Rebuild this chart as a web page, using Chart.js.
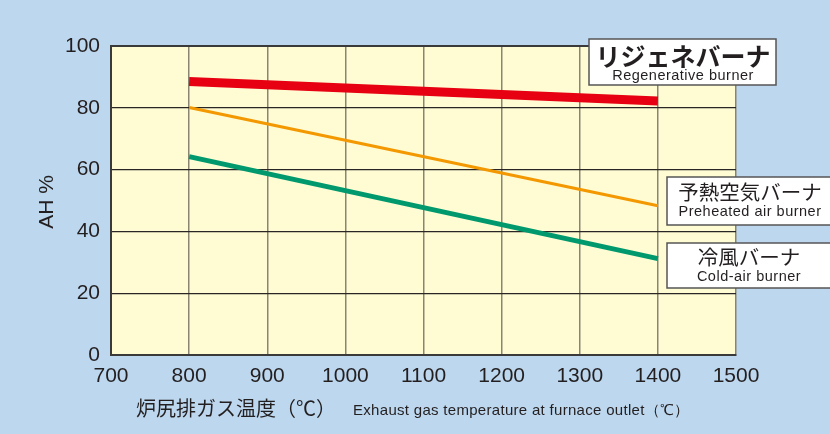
<!DOCTYPE html>
<html>
<head>
<meta charset="utf-8">
<script src="https://cdn.jsdelivr.net/npm/chart.js@4.4.1/dist/chart.umd.min.js"></script>
<style>
  html, body { margin: 0; padding: 0; background: #bdd7ee; }
  #wrap { width: 830px; height: 434px; }
</style>
</head>
<body>
<div id="wrap"><canvas id="grafica" width="830" height="434"></canvas></div>
<script>
// 炉尻排ガス温度 (℃)
const temps = [800, 1400];
// AH %
const regen = [88.5, 82.2];     // リジェネバーナ
const preheat = [80.1, 48.3];   // 予熱空気バーナ
const coldAir = [64.2, 31.2];   // 冷風バーナ
const xTicks = [700, 800, 900, 1000, 1100, 1200, 1300, 1400, 1500];
const yTicks = [0, 20, 40, 60, 80, 100];

const pts = (ys) => temps.map((t, i) => ({ x: t, y: ys[i] }));
const ink = "#231f20";
const sans = "'Liberation Sans', Arial, sans-serif";
const jp = "'Noto Sans CJK JP', sans-serif";

const decor = {
  id: "decor",
  beforeDraw(chart) {
    const { ctx, chartArea: a } = chart;
    ctx.save();
    ctx.fillStyle = "#bdd7ee";
    ctx.fillRect(0, 0, chart.width, chart.height);
    ctx.fillStyle = "#fffcd3";
    ctx.fillRect(a.left, a.top, a.right - a.left, a.bottom - a.top);
    ctx.restore();
  },
  afterDraw(chart) {
    const { ctx, chartArea: a } = chart;
    ctx.save();
    // top border of plot
    ctx.strokeStyle = "#3a3a3a";
    ctx.lineWidth = 2;
    ctx.beginPath();
    ctx.moveTo(a.left, a.top);
    ctx.lineTo(a.right, a.top);
    ctx.stroke();

    // y axis title
    ctx.fillStyle = ink;
    ctx.save();
    ctx.translate(47, 202);
    ctx.rotate(-Math.PI / 2);
    ctx.font = "21px " + sans;
    ctx.textAlign = "center";
    ctx.textBaseline = "middle";
    ctx.fillText("AH %", 0, 0);
    ctx.restore();

    // x axis title
    ctx.textAlign = "left";
    ctx.textBaseline = "alphabetic";
    ctx.font = "20px " + jp;
    ctx.fillText("炉尻排ガス温度（℃）", 136, 416);
    ctx.font = "15px " + sans;
    ctx.letterSpacing = "0.3px";
    ctx.fillText("Exhaust gas temperature at furnace outlet（℃）", 353, 414.5);
    ctx.letterSpacing = "0px";

    // label boxes
    function box(x, y, w, h, title, sub, titleFont, cx, ty, sy) {
      ctx.fillStyle = "#ffffff";
      ctx.fillRect(x, y, w, h);
      ctx.strokeStyle = "#555555";
      ctx.lineWidth = 1.5;
      ctx.strokeRect(x, y, w, h);
      ctx.fillStyle = ink;
      ctx.textAlign = "center";
      ctx.textBaseline = "middle";
      ctx.letterSpacing = "0px";
      ctx.font = titleFont;
      ctx.fillText(title, cx, ty);
      ctx.textBaseline = "alphabetic";
      ctx.font = "14.5px " + sans;
      ctx.letterSpacing = "0.5px";
      ctx.fillText(sub, cx, sy);
      ctx.letterSpacing = "0px";
    }
    box(589, 39, 187, 46, "リジェネバーナ", "Regenerative burner", "bold 25px " + jp, 683, 56, 80);
    box(667, 177, 170, 48, "予熱空気バーナ", "Preheated air burner", "20.5px " + jp, 750, 192, 215.5);
    box(667, 243, 170, 45, "冷風バーナ", "Cold-air burner", "20.5px " + jp, 749, 257, 281);
    ctx.restore();
  }
};

new Chart(document.getElementById("grafica").getContext("2d"), {
  type: "line",
  data: {
    datasets: [
      { label: "リジェネバーナ", data: pts(regen), borderColor: "#e60012", borderWidth: 9, borderCapStyle: "butt" },
      { label: "予熱空気バーナ", data: pts(preheat), borderColor: "#f39800", borderWidth: 3 },
      { label: "冷風バーナ", data: pts(coldAir), borderColor: "#00996e", borderWidth: 5 }
    ]
  },
  options: {
    responsive: false,
    animation: false,
    devicePixelRatio: 1,
    layout: { padding: { left: 0, right: 94, top: 46, bottom: 0 } },
    elements: { point: { radius: 0 }, line: { tension: 0 } },
    plugins: { legend: { display: false }, tooltip: { enabled: false } },
    scales: {
      x: {
        type: "linear",
        min: xTicks[0],
        max: xTicks[xTicks.length - 1],
        afterBuildTicks: (s) => { s.ticks = xTicks.map(v => ({ value: v })); },
        afterFit: (s) => { s.height = 79; },
        grid: { color: "#8a8572", lineWidth: 1.5, drawTicks: false },
        border: { color: "#3a3a3a", width: 2 },
        ticks: { color: ink, font: { family: sans, size: 21 }, padding: 9, callback: (v) => String(v) }
      },
      y: {
        min: yTicks[0],
        max: yTicks[yTicks.length - 1],
        afterBuildTicks: (s) => { s.ticks = yTicks.map(v => ({ value: v })); },
        afterFit: (s) => { s.width = 111; },
        grid: { color: "#2a2626", lineWidth: 1.3, drawTicks: false },
        border: { color: "#3a3a3a", width: 2 },
        ticks: { color: ink, font: { family: sans, size: 21 }, padding: 11, callback: (v) => String(v) }
      }
    }
  },
  plugins: [decor]
});
</script>
</body>
</html>
